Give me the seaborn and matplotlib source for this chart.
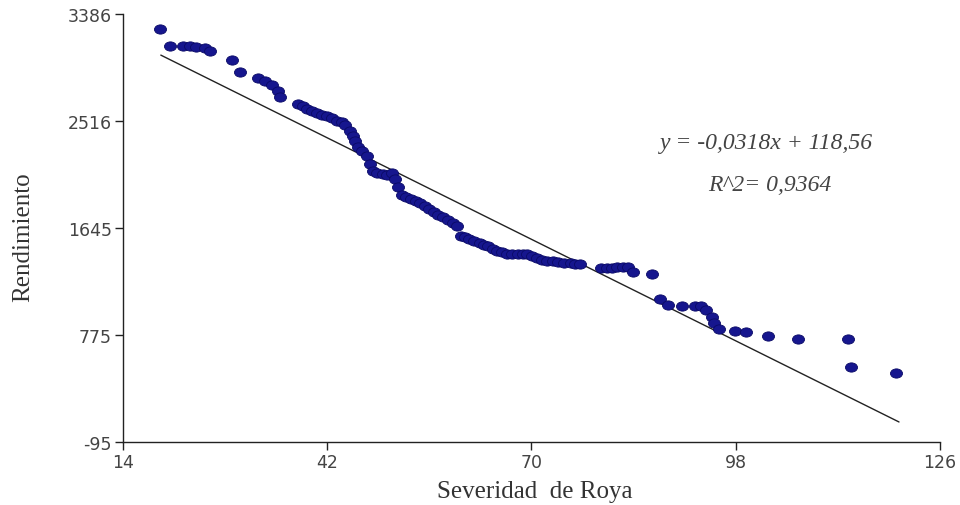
import matplotlib
matplotlib.use("Agg")
import matplotlib.pyplot as plt
from matplotlib.path import Path
from matplotlib.transforms import Affine2D
import seaborn as sns
import pandas as pd

# Severidad de roya (%) vs rendimiento
severidad = [19.1, 20.5, 22.2, 23.2, 24.0, 25.3, 25.9, 29.0, 30.1, 32.5,
             33.5, 34.5, 35.3, 35.5, 38.0, 38.7, 39.3, 39.9, 40.6, 41.3,
             42.0, 42.7, 43.4, 44.1, 44.5, 45.2, 45.6, 45.8, 46.3, 46.8,
             47.5, 47.9, 48.3, 48.9, 49.7, 50.2, 50.9, 51.3, 51.7, 52.2,
             52.8, 53.5, 54.2, 54.8, 55.4, 56.0, 56.7, 57.2, 57.9, 58.6,
             59.2, 59.8, 60.3, 60.9, 61.5, 62.2, 62.9, 63.5, 64.1, 64.8,
             65.3, 66.0, 66.7, 67.4, 68.1, 68.8, 69.4, 70.1, 70.8, 71.5,
             72.2, 72.9, 73.7, 74.5, 75.4, 76.0, 76.7, 79.5, 80.4, 81.1,
             81.8, 82.5, 83.2, 84.0, 86.6, 87.7, 88.8, 90.7, 92.5, 93.2,
             94.0, 94.7, 95.1, 95.7, 97.9, 99.4, 102.4, 106.5, 113.4, 113.8,
             120.0]
rendimiento = [3264, 3126, 3126, 3126, 3118, 3109, 3085, 3012, 2914, 2865,
               2841, 2809, 2760, 2711, 2654, 2638, 2613, 2597, 2581, 2565,
               2556, 2540, 2516, 2508, 2483, 2434, 2394, 2353, 2304, 2272,
               2231, 2166, 2109, 2093, 2085, 2077, 2093, 2044, 1979, 1914,
               1898, 1881, 1865, 1849, 1824, 1800, 1776, 1751, 1735, 1711,
               1686, 1662, 1580, 1572, 1556, 1540, 1524, 1507, 1499, 1475,
               1459, 1450, 1434, 1434, 1434, 1434, 1434, 1418, 1402, 1385,
               1377, 1377, 1369, 1361, 1361, 1353, 1353, 1320, 1320, 1320,
               1328, 1328, 1328, 1288, 1271, 1068, 1019, 1011, 1011, 1011,
               979, 922, 873, 824, 808, 800, 767, 743, 743, 515,
               466]

# fitted line end points
recta_x = [19.2, 120.4]
recta_y = [3053, 68]

x_ticks = [14, 42, 70, 98, 126]
y_ticks = [-95, 775, 1645, 2516, 3386]

df = pd.DataFrame({"severidad": severidad, "rendimiento": rendimiento})
recta = pd.DataFrame({"x": recta_x, "y": recta_y})

sns.set_style("ticks")
plt.rcParams["axes.unicode_minus"] = False

# slightly wide dot, like the original
oval = Path.unit_circle().transformed(Affine2D().scale(1.3, 1.0))

fig = plt.figure(figsize=(9.6, 5.06), dpi=100)
ax = fig.add_axes([0.128, 0.1245, 0.851, 0.8455])

sns.lineplot(data=recta, x="x", y="y", color="#222222", linewidth=1.0, ax=ax)
sns.scatterplot(data=df, x="severidad", y="rendimiento", color="#16168e",
                edgecolor="#0a0a66", linewidth=0.6, s=75, marker=oval,
                ax=ax, zorder=3)

ax.set_xlim(x_ticks[0], x_ticks[-1])
ax.set_ylim(y_ticks[0], y_ticks[-1])
ax.set_xticks(x_ticks)
ax.set_yticks(y_ticks)
ax.tick_params(axis="both", direction="out", length=6, width=1, color="#222222",
               labelsize=12.5, labelcolor="#444444", pad=2)
for lab in ax.get_xticklabels() + ax.get_yticklabels():
    lab.set_family("DejaVu Sans")

sns.despine(ax=ax)
for side in ["left", "bottom"]:
    ax.spines[side].set_color("#222222")
    ax.spines[side].set_linewidth(1.0)

ax.set_xlabel("Severidad  de Roya", family="Liberation Serif", fontsize=18,
              color="#333333")
ax.xaxis.set_label_coords(0.504, -0.088)
ax.set_ylabel("Rendimiento", family="Liberation Serif", fontsize=18,
              color="#333333")
ax.yaxis.set_label_coords(-0.108, 0.48)

ax.text(0.788, 0.699, "y = -0,0318x + 118,56", transform=ax.transAxes,
        family="Liberation Serif", style="italic", fontsize=17, color="#444444",
        ha="center", va="center")
ax.text(0.792, 0.603, "R^2= 0,9364", transform=ax.transAxes,
        family="Liberation Serif", style="italic", fontsize=17, color="#444444",
        ha="center", va="center")

fig.savefig("out.png", dpi=100, facecolor="white")
